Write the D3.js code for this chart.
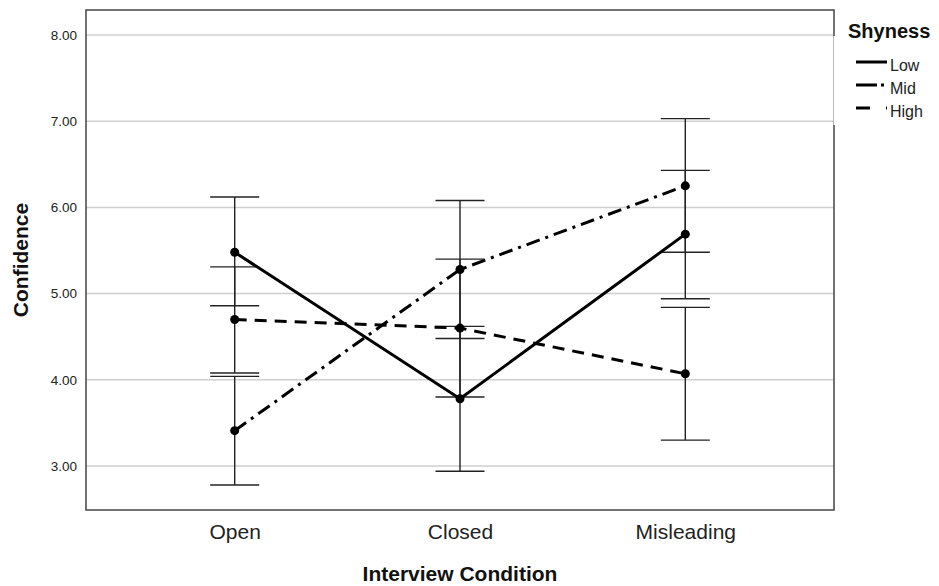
<!DOCTYPE html>
<html>
<head>
<meta charset="utf-8">
<script src="https://cdn.jsdelivr.net/npm/d3@7"></script>
<style>
  body { margin: 0; background: #fff; }
  svg { font-family: Arial, "Liberation Sans", sans-serif; }
</style>
</head>
<body>
<div id="chart"></div>
<script>
(function(){
  'use strict';

  // data
  var conditions = ["Open", "Closed", "Misleading"];
  var groups = ["Low", "Mid", "High"];
  var means = {
    Low:  [5.48, 3.78, 5.69],
    Mid:  [3.41, 5.28, 6.25],
    High: [4.70, 4.60, 4.07]
  };
  var ciLow = {
    Low:  [4.86, 2.94, 4.94],
    Mid:  [2.78, 4.48, 5.48],
    High: [4.08, 3.80, 3.30]
  };
  var ciHigh = {
    Low:  [6.12, 4.62, 6.43],
    Mid:  [4.04, 6.08, 7.03],
    High: [5.31, 5.40, 4.84]
  };
  var yTicks = [3, 4, 5, 6, 7, 8];
  var dashes = { Low: null, Mid: "14,6,3,6", High: "12,8" };
  var legendDashes = { Low: null, Mid: "21,4,3,20", High: "14,16,3,20" };

  var width = 939, height = 586;
  var plot = { left: 86, right: 834, top: 10, bottom: 510 };

  var svg = d3.select("#chart")
              .append("svg")
              .attr("width", width)
              .attr("height", height);

  var x = d3.scalePoint()
            .domain(conditions)
            .range([plot.left, plot.right])
            .padding(0.66);

  var y = d3.scaleLinear()
            .domain([2.49, 8.29])
            .range([plot.bottom, plot.top]);

  // grid lines
  svg.append("g")
    .selectAll("line")
    .data(yTicks)
    .join("line")
    .attr("x1", plot.left)
    .attr("x2", plot.right)
    .attr("y1", function(d){ return y(d); })
    .attr("y2", function(d){ return y(d); })
    .attr("stroke", "#cfcfcf")
    .attr("stroke-width", 1.5);

  // y axis labels
  var yAxis = d3.axisLeft(y)
                .tickValues(yTicks)
                .tickFormat(d3.format(".2f"))
                .tickSize(0)
                .tickPadding(9);
  var gy = svg.append("g")
              .attr("transform", "translate(" + plot.left + ",0)")
              .call(yAxis);
  gy.select(".domain").remove();
  gy.attr("font-size", 13.5).attr("font-family", null);
  gy.selectAll("text")
    .attr("fill", "#222");

  // x axis labels
  var xAxis = d3.axisBottom(x).tickSize(0).tickPadding(29);
  var gx = svg.append("g")
              .attr("transform", "translate(0," + plot.bottom + ")")
              .call(xAxis);
  gx.select(".domain").remove();
  gx.attr("font-size", 21).attr("font-family", null);
  gx.selectAll("text")
    .attr("dy", 0)
    .attr("fill", "#222");

  // error bars
  var capHalf = 24.5;
  groups.forEach(function(g){
    var eb = svg.append("g").attr("class", "errbar-" + g);
    conditions.forEach(function(c, i){
      var cx = x(c);
      eb.append("line")
        .attr("x1", cx).attr("x2", cx)
        .attr("y1", y(ciLow[g][i])).attr("y2", y(ciHigh[g][i]))
        .attr("stroke", "#222").attr("stroke-width", 1.4);
      [ciLow[g][i], ciHigh[g][i]].forEach(function(v){
        eb.append("line")
          .attr("x1", cx - capHalf).attr("x2", cx + capHalf)
          .attr("y1", y(v)).attr("y2", y(v))
          .attr("stroke", "#222").attr("stroke-width", 1.4);
      });
    });
  });

  // mean lines
  var line = d3.line()
               .x(function(d){ return x(d.c); })
               .y(function(d){ return y(d.v); });

  groups.forEach(function(g){
    var pts = conditions.map(function(c, i){ return { c: c, v: means[g][i] }; });
    svg.append("path")
      .datum(pts)
      .attr("d", line)
      .attr("fill", "none")
      .attr("stroke", "#000")
      .attr("stroke-width", 3)
      .attr("stroke-dasharray", dashes[g]);
    svg.append("g")
      .selectAll("circle")
      .data(pts)
      .join("circle")
      .attr("cx", function(d){ return x(d.c); })
      .attr("cy", function(d){ return y(d.v); })
      .attr("r", 4.5)
      .attr("fill", "#000");
  });

  // frame
  svg.append("rect")
    .attr("x", plot.left)
    .attr("y", plot.top)
    .attr("width", plot.right - plot.left)
    .attr("height", plot.bottom - plot.top)
    .attr("fill", "none")
    .attr("stroke", "#444")
    .attr("stroke-width", 1.5);

  // legend (covers the frame edge like the original)
  var lg = svg.append("g");
  lg.append("rect")
    .attr("x", plot.right - 0.5)
    .attr("y", 36)
    .attr("width", 104)
    .attr("height", 89)
    .attr("fill", "#fff");
  lg.append("text")
    .attr("x", 848)
    .attr("y", 38)
    .attr("font-size", 20)
    .attr("font-weight", "bold")
    .attr("fill", "#111")
    .text("Shyness");
  groups.forEach(function(g, i){
    var ly = 62 + i * 23;
    lg.append("line")
      .attr("x1", 856).attr("x2", 887)
      .attr("y1", ly).attr("y2", ly)
      .attr("stroke", "#000")
      .attr("stroke-width", 3)
      .attr("stroke-dasharray", legendDashes[g]);
    lg.append("text")
      .attr("x", 890)
      .attr("y", ly + 8.5)
      .attr("font-size", 16)
      .attr("fill", "#222")
      .text(g);
  });

  // axis titles
  svg.append("text")
    .attr("transform", "translate(28," + ((plot.top + plot.bottom) / 2) + ") rotate(-90)")
    .attr("text-anchor", "middle")
    .attr("font-size", 21)
    .attr("font-weight", "bold")
    .attr("fill", "#111")
    .text("Confidence");

  svg.append("text")
    .attr("x", (plot.left + plot.right) / 2)
    .attr("y", 581)
    .attr("text-anchor", "middle")
    .attr("font-size", 21)
    .attr("font-weight", "bold")
    .attr("fill", "#111")
    .text("Interview Condition");

})();
</script>
</body>
</html>
